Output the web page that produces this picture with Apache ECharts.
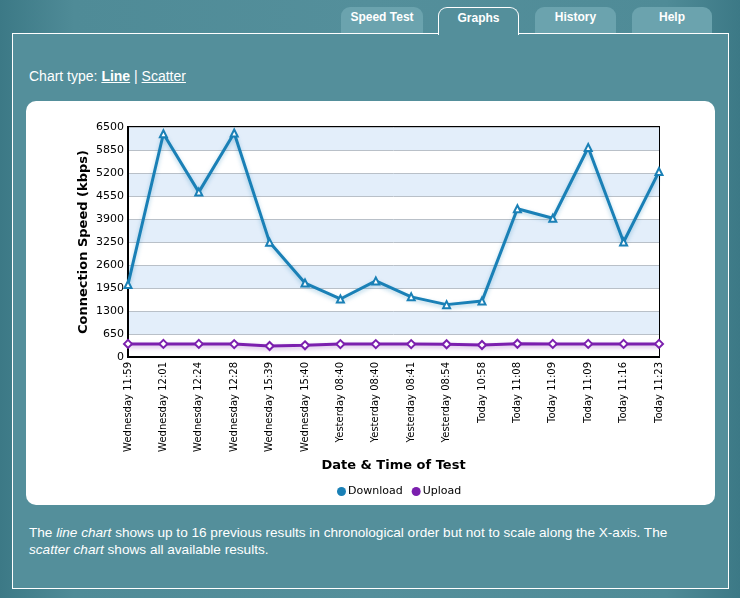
<!DOCTYPE html>
<html>
<head>
<meta charset="utf-8">
<script src="https://cdn.jsdelivr.net/npm/echarts@6/dist/echarts.min.js"></script>
<style>
	html, body {
		margin: 0;
		padding: 0;
		width: 740px;
		height: 598px;
		overflow: hidden;
		font-family: "Liberation Sans", Arial, sans-serif;
	}
	body {
		background: linear-gradient(to right, #3c7986 0%, #4f8b97 10%, #548f9b 50%, #4f8b97 90%, #3c7986 100%);
		position: relative;
	}
	#panel {
		position: absolute;
		left: 12px;
		top: 33px;
		width: 715px;
		height: 554px;
		border: 1px solid #fff;
		background: #548f9b;
	}
	.tab {
		position: absolute;
		top: 7px;
		height: 26px;
		border-radius: 9px 9px 0 0;
		background: #6ba3ae;
		color: #fff;
		font-weight: bold;
		font-size: 12px;
		text-align: center;
		line-height: 21px;
	}
	.tab.active {
		background: #548f9b;
		border: 1px solid #fff;
		border-bottom: none;
		height: 27px;
		z-index: 2;
	}
	#charttype {
		position: absolute;
		left: 29px;
		top: 68px;
		color: #fff;
		font-size: 14px;
	}
	#charttype u { text-decoration: underline; }
	#box {
		position: absolute;
		left: 26px;
		top: 101px;
		width: 689px;
		height: 404px;
		background: #fff;
		border-radius: 10px;
	}
	#echart {
		width: 689px;
		height: 404px;
	}
	#note {
		position: absolute;
		left: 29px;
		top: 524px;
		width: 648px;
		color: #fff;
		font-size: 13.6px;
		line-height: 17px;
	}
</style>
</head>
<body>
	<div id="panel"></div>
	<div class="tab" style="left:341px;width:82px;">Speed Test</div>
	<div class="tab active" style="left:438px;width:79px;">Graphs</div>
	<div class="tab" style="left:535px;width:81px;">History</div>
	<div class="tab" style="left:632px;width:80px;">Help</div>
	<div id="charttype">Chart type: <b><u>Line</u></b> | <u>Scatter</u></div>
	<div id="box"><div id="echart"></div></div>
	<div id="note">The <i>line chart</i> shows up to 16 previous results in chronological order but not to scale along the X-axis. The <i>scatter chart</i> shows all available results.</div>

<script>
	// test times (x axis)
	var testTimes = ['Wednesday 11:59', 'Wednesday 12:01', 'Wednesday 12:24', 'Wednesday 12:28',
		'Wednesday 15:39', 'Wednesday 15:40', 'Yesterday 08:40', 'Yesterday 08:40',
		'Yesterday 08:41', 'Yesterday 08:54', 'Today 10:58', 'Today 11:08',
		'Today 11:09', 'Today 11:09', 'Today 11:16', 'Today 11:23'];
	// kbps
	var download = [2050, 6310, 4660, 6330, 3240, 2090, 1640, 2150, 1700, 1480, 1580, 4190, 3920, 5920, 3250, 5240];
	var upload = [370, 370, 370, 365, 310, 330, 365, 365, 365, 360, 340, 375, 370, 370, 370, 370];
	var speedTicks = [0, 650, 1300, 1950, 2600, 3250, 3900, 4550, 5200, 5850, 6500];

	var font = '"DejaVu Sans", Verdana, sans-serif';
	var myChart = echarts.init(document.getElementById('echart'));
	myChart.setOption({
		animation: false,
		textStyle: { fontFamily: font },
		grid: {
			left: 102,
			right: 56,
			top: 26,
			bottom: 148,
			show: true,
			borderColor: '#000',
			borderWidth: 2,
			backgroundColor: 'transparent'
		},
		legend: {
			bottom: 3,
			left: 306,
			icon: 'circle',
			itemWidth: 9,
			itemHeight: 9,
			itemGap: 9,
			textStyle: { fontFamily: font, fontSize: 11, color: '#000', padding: [0, 0, 0, -3] },
			data: [
				{ name: 'Download', itemStyle: { color: '#1a80b6', borderWidth: 0 } },
				{ name: 'Upload', itemStyle: { color: '#7b1fae', borderWidth: 0 } }
			]
		},
		xAxis: {
			type: 'category',
			data: testTimes,
			boundaryGap: false,
			name: 'Date & Time of Test',
			nameLocation: 'middle',
			nameGap: 102,
			nameMoveOverlap: false,
			nameTextStyle: { fontFamily: font, fontSize: 13, fontWeight: 'bold', color: '#000' },
			axisLine: { lineStyle: { color: '#000', width: 2 } },
			axisTick: { show: false },
			axisLabel: { rotate: 90, interval: 0, fontSize: 10, color: '#000', margin: 5 },
			splitLine: { show: false }
		},
		yAxis: {
			type: 'value',
			min: speedTicks[0],
			max: speedTicks[speedTicks.length - 1],
			interval: 650,
			name: 'Connection Speed (kbps)',
			nameLocation: 'middle',
			nameGap: 38,
			nameMoveOverlap: false,
			nameTextStyle: { fontFamily: font, fontSize: 13, fontWeight: 'bold', color: '#000' },
			axisLine: { show: true, lineStyle: { color: '#000', width: 2 } },
			axisTick: { show: false },
			axisLabel: { fontSize: 11, color: '#000', margin: 4, formatter: function (v) { return String(v); } },
			splitLine: { show: true, lineStyle: { color: '#b9c0c8', width: 1 } },
			splitArea: { show: true, areaStyle: { color: ['#ffffff', '#e3eefa'] } }
		},
		series: [{
			name: 'Download',
			type: 'line',
			data: download,
			symbol: 'triangle',
			symbolSize: 7,
			color: '#1a80b6',
			lineStyle: { color: '#1a80b6', width: 3, shadowColor: 'rgba(26,128,182,0.35)', shadowBlur: 4, shadowOffsetY: 2 },
			itemStyle: { color: '#fff', borderColor: '#1a80b6', borderWidth: 2 }
		}, {
			name: 'Upload',
			type: 'line',
			data: upload,
			symbol: 'diamond',
			symbolSize: 8,
			color: '#7b1fae',
			lineStyle: { color: '#7b1fae', width: 3, shadowColor: 'rgba(123,31,174,0.35)', shadowBlur: 4, shadowOffsetY: 2 },
			itemStyle: { color: '#fff', borderColor: '#7b1fae', borderWidth: 2 }
		}]
	});
</script>
</body>
</html>
